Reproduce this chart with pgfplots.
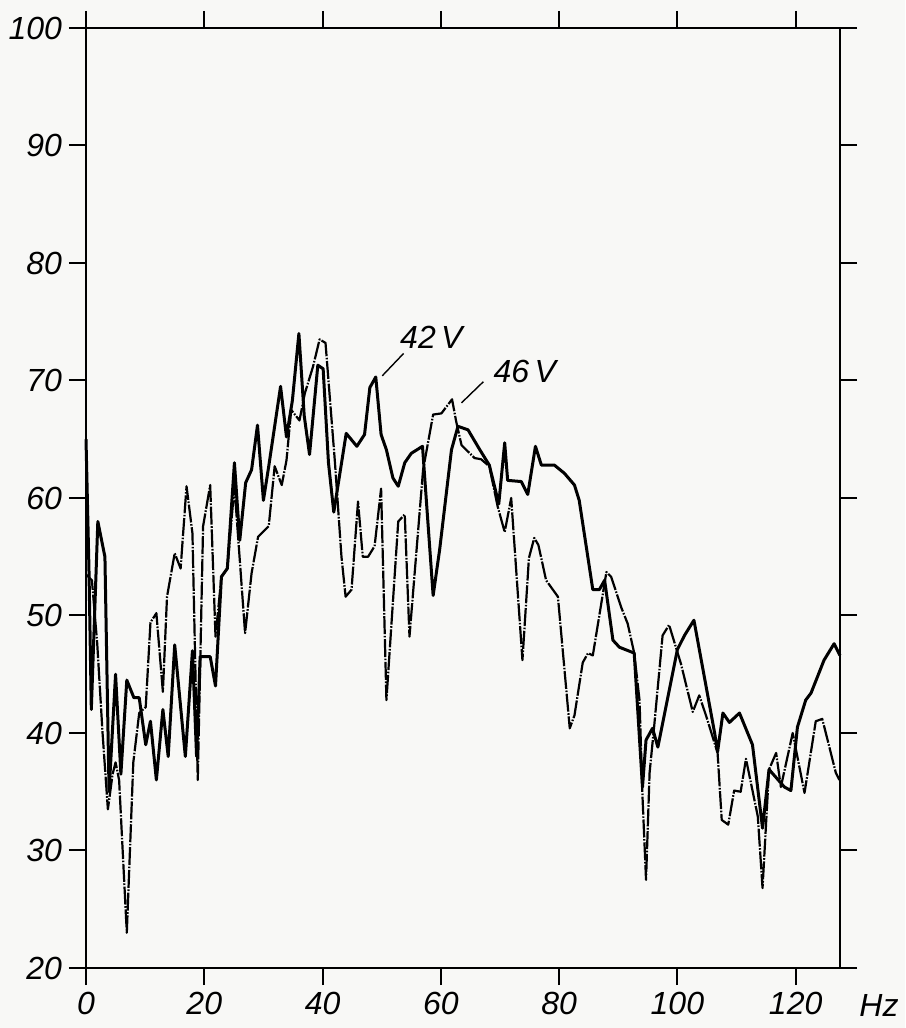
\documentclass[border=0pt]{standalone}
\usepackage{fontspec}
\setmainfont{Liberation Sans}
\usepackage{pgfplots}
\pgfplotsset{compat=1.18}
\pgfplotstableread{
x y
0 65
0.5 54
0.9 42
2.0 58
3.2 55
3.9 35
5.0 45
5.9 36.5
6.9 44.5
8.1 43
9.0 43
10.1 39
10.9 41
11.9 36
13.0 42
13.9 38
15.0 47.5
16.8 38
18.0 47
18.7 38
19.3 46.5
21.0 46.5
21.9 44
22.9 53.3
23.9 54
25.1 63
26.0 56.4
27.0 61.3
28.0 62.4
29.0 66.2
30.0 59.8
30.9 62.7
32.9 69.5
33.9 65.2
34.9 68.3
36.0 74
36.9 67
37.8 63.7
39.2 71.3
40.1 71
41.0 63
41.9 58.8
44.0 65.5
45.8 64.4
47.1 65.4
48.0 69.4
49.0 70.3
49.9 65.4
50.8 64.1
51.9 61.7
52.8 61.0
53.9 63.0
55.0 63.8
56.9 64.4
58.7 51.7
59.8 55.6
61.8 64.1
62.9 66.1
64.6 65.8
66.6 64.1
68.2 62.8
69.8 59.5
70.8 64.7
71.3 61.5
73.6 61.4
74.7 60.3
76.0 64.4
77.0 62.8
79.2 62.8
80.9 62.1
82.6 61.1
83.4 59.8
85.7 52.2
86.8 52.2
87.7 53.0
89.1 47.9
90.2 47.3
92.7 46.8
94.1 35.4
94.7 39.4
95.8 40.4
96.7 38.8
100.0 47.1
101.2 48.3
102.8 49.6
106.3 40.0
106.8 38.4
107.7 41.7
108.8 40.9
110.5 41.7
112.7 39.0
114.4 31.9
115.5 36.9
118.1 35.4
119.2 35.1
120.3 40.5
121.7 42.8
122.6 43.4
124.8 46.2
126.5 47.6
127.5 46.6
}\dataA
\pgfplotstableread{
x y
0 53.5
1.0 53
1.9 47.6
2.8 40
3.7 33.5
4.5 36.5
5.0 37.5
5.6 36
6.9 23
8.0 37.5
9.0 41.7
10.1 42.2
10.9 49.4
11.9 50.2
13.0 43.5
13.7 51.6
15.0 55.3
16.0 54.0
17.0 61
18.0 57
18.9 36
19.8 57.6
21.0 61.1
21.9 48.2
22.9 53.3
23.9 54
25.1 61
26.9 48.5
28.0 53.6
29.1 56.7
30.9 57.6
31.9 62.7
33.1 61.1
33.9 63.2
34.7 67.5
36.1 66.6
37.0 68.9
38.4 71.2
39.5 73.5
40.5 73.2
42.1 63.0
43.2 55
43.9 51.6
44.9 52.2
46.0 59.7
46.8 55
47.7 55
48.8 55.9
49.9 60.8
50.8 42.8
52.8 58.0
53.9 58.6
54.7 48.2
57.0 62.4
58.7 67.1
60.1 67.2
61.9 68.4
62.6 66.5
63.5 64.5
65.7 63.4
66.8 63.3
68.2 62.7
69.6 59.3
70.8 57.1
71.9 60.0
73.8 46.2
74.9 54.9
75.8 56.6
76.5 56
77.8 53.0
79.8 51.6
81.8 40.4
82.6 41.5
84.0 46.0
84.9 46.8
85.7 46.6
88.0 53.7
88.8 53.3
90.5 50.7
91.6 49.3
92.7 46.8
93.6 42.8
94.1 34.6
94.7 27.5
95.3 36.6
96.1 40.7
97.5 48.3
98.6 49.2
100.6 45.9
102.6 41.8
103.7 43.2
104.9 41.4
106.8 38.3
107.5 32.6
108.6 32.2
109.6 35.1
110.7 35.0
111.6 37.8
113.6 32.9
114.4 26.8
115.5 36.9
116.7 38.3
117.5 35.4
119.5 40.0
121.5 34.9
123.4 41.0
124.5 41.2
126.8 36.6
127.4 36.0
}\dataB
\begin{document}
\begin{tikzpicture}
\path[use as bounding box, fill={rgb,255:red,248;green,248;blue,246}] (-43pt,-30pt) rectangle (409.5pt,484pt);
\begin{axis}[
  scale only axis, width=377pt, height=470pt,
  xmin=0, xmax=127.5, ymin=20, ymax=100,
  xtick={0,20,...,120}, ytick={20,30,...,100},
  tick pos=both, tick align=outside, major tick length=8.5pt,
  axis line style={line width=1.3pt},
  every tick/.style={black, line width=1pt},
  /pgf/number format/assume math mode=true,
  ticklabel style={font=\itshape\fontsize{16}{16}\selectfont},
  clip=false,
]
\addplot[black, line width=1.5pt, line join=round] table[x=x,y=y] {\dataA};
\addplot[black, line width=1.1pt, line join=round, dash pattern=on 9pt off 0.8pt on 0.8pt off 0.8pt] table[x=x,y=y] {\dataB};
\draw[line width=0.7pt] (axis cs:50.1,70.4) -- (axis cs:53.7,72.3);
\draw[line width=0.7pt] (axis cs:63.5,68.1) -- (axis cs:67.2,69.9);
\node[font=\itshape\fontsize{16}{16}\selectfont] at (axis cs:58.4,73.7) {42\,V};
\node[font=\itshape\fontsize{16}{16}\selectfont] at (axis cs:74.2,70.8) {46\,V};
\node[font=\itshape\fontsize{16}{16}\selectfont] at (axis cs:134.1,16.85) {Hz};
\end{axis}
\end{tikzpicture}
\end{document}
